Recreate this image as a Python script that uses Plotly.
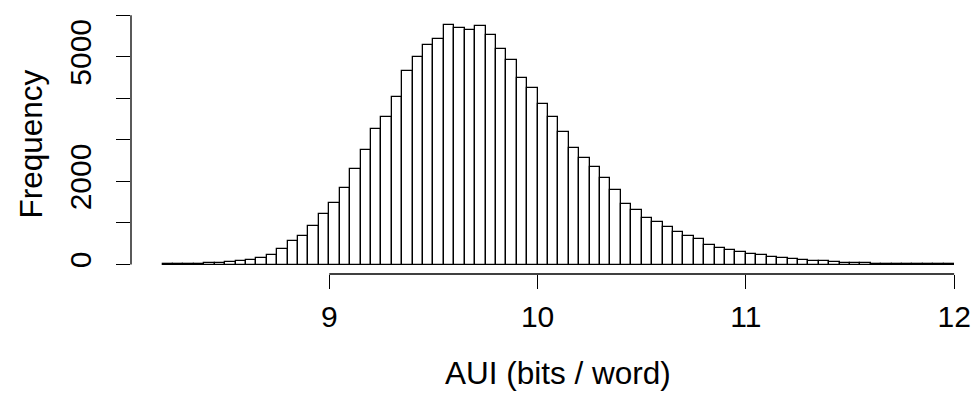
import plotly.graph_objects as go

# bin left edges start at 8.20, width 0.05
bin_start = 8.20
bin_width = 0.05
counts = [
    2, 3, 5, 10, 30, 30, 64, 80, 120, 160,          # 8.20 - 8.65
    224, 376, 568, 688, 928, 1208,                  # 8.70 - 8.95
    1488, 1840, 2296, 2760, 3272, 3560, 4024, 4664, 5000, 5280,  # 9.00 - 9.45
    5424, 5776, 5704, 5648, 5736, 5536, 5192, 4920, 4488, 4248,  # 9.50 - 9.95
    3864, 3560, 3200, 2800, 2568, 2352, 2072, 1784, 1456, 1304,  # 10.00 - 10.45
    1128, 1024, 912, 784, 688, 608, 464, 400, 352, 296,          # 10.50 - 10.95
    264, 224, 192, 160, 128, 112, 88, 80, 56, 48,                # 11.00 - 11.45
    48, 32, 24, 24, 24, 16, 16, 16, 20, 16,                      # 11.50 - 11.95
]
centers = [round(bin_start + bin_width * (i + 0.5), 4) for i in range(len(counts))]

x_tickvals = [9, 10, 11, 12]
x_ticktext = ["9", "10", "11", "12"]
y_tickvals = [0, 1000, 2000, 3000, 4000, 5000, 6000]
y_ticktext = ["0", "", "2000", "", "", "5000", ""]

x_title = "AUI (bits / word)"
y_title = "Frequency"

FONT = "Liberation Sans, Arial, Helvetica, sans-serif"
FS = 30
FS_T = 31.5

W, H = 976, 394
ML = 90
PLOT_LEFT = 131
PW = W - ML
dom0 = (PLOT_LEFT - ML) / PW
lab_pos = (97 - ML) / PW

xmin, xmax = 8.048, 12.105
ymin, ymax = -228, 6007

fig = go.Figure()
fig.add_trace(go.Bar(
    x=centers, y=counts, width=bin_width,
    marker=dict(color="white", line=dict(color="black", width=1.3)),
    hoverinfo="x+y",
))
# invisible helper trace carrying the tick-label axis
fig.add_trace(go.Scatter(x=[10], y=[0], yaxis="y2", mode="markers",
                         marker=dict(opacity=0), hoverinfo="skip"))

fig.update_layout(
    width=W, height=H,
    margin=dict(l=ML, r=0, t=15, b=H - 274.5),
    paper_bgcolor="white", plot_bgcolor="white",
    showlegend=False, bargap=0,
    font=dict(family=FONT, size=FS, color="black"),
    xaxis=dict(
        domain=[dom0, 1],
        range=[xmin, xmax], showgrid=False, zeroline=False, showline=False,
        tickmode="array", tickvals=x_tickvals, ticktext=x_ticktext,
        ticks="outside", ticklen=14, tickwidth=1.3, tickcolor="black",
        ticklabelstandoff=2,
        tickfont=dict(family=FONT, size=FS),
    ),
    yaxis=dict(
        range=[ymin, ymax], showgrid=False, zeroline=False, showline=False,
        tickmode="array", tickvals=y_tickvals, showticklabels=False,
        ticks="outside", ticklen=14, tickwidth=1.3, tickcolor="black",
    ),
    yaxis2=dict(
        overlaying="y", anchor="free", position=lab_pos, side="left",
        range=[ymin, ymax], showgrid=False, zeroline=False, showline=False,
        tickmode="array", tickvals=y_tickvals, ticktext=y_ticktext,
        ticks="", tickangle=-90,
        tickfont=dict(family=FONT, size=FS),
    ),
    shapes=[
        dict(type="line", xref="x", yref="paper", x0=9, x1=12, y0=0, y1=0,
             line=dict(color="black", width=1.3)),
        dict(type="line", xref="x domain", yref="y", x0=0, x1=0, y0=0, y1=6000,
             line=dict(color="black", width=1.3)),
    ],
    annotations=[
        dict(text=x_title, xref="x", yref="paper", x=(8.048 + 12.152) / 2, y=0,
             yshift=-119, showarrow=False, xanchor="center", yanchor="bottom",
             font=dict(family=FONT, size=FS_T)),
        dict(text=y_title, xref="paper", yref="paper", x=0, y=0.5,
             xshift=30 - ML, showarrow=False, textangle=-90,
             xanchor="center", yanchor="middle",
             font=dict(family=FONT, size=FS_T)),
    ],
)

fig.write_html("out.html")
